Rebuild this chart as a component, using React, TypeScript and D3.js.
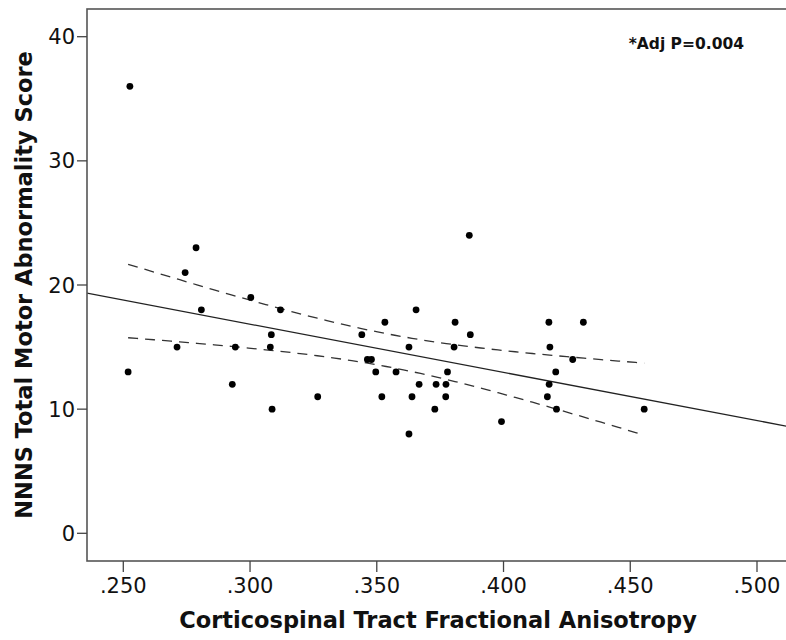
import React, { useEffect, useRef } from 'react';
import * as d3 from 'd3';

// corticospinal tract FA (x) and NNNS total motor abnormality score (y)
const faValues = [
  0.2526, 0.2519, 0.2712, 0.2744, 0.2787, 0.2808, 0.2930, 0.2942, 0.3003, 0.3080,
  0.3084, 0.3087, 0.3120, 0.3267, 0.3441, 0.3463, 0.3479, 0.3496, 0.3520, 0.3532,
  0.3576, 0.3627, 0.3627, 0.3639, 0.3655, 0.3667, 0.3729, 0.3734, 0.3772, 0.3773,
  0.3779, 0.3805, 0.3809, 0.3865, 0.3869, 0.3992, 0.4173, 0.4179, 0.4180, 0.4183,
  0.4206, 0.4209, 0.4273, 0.4315, 0.4555,
];
const scoreValues = [
  36, 13, 15, 21, 23, 18, 12, 15, 19, 15,
  16, 10, 18, 11, 16, 14, 14, 13, 11, 17,
  13, 15, 8, 11, 18, 12, 10, 12, 11, 12,
  13, 15, 17, 24, 16, 9, 11, 17, 12, 15,
  13, 10, 14, 17, 10,
];

const xTicks = [0.25, 0.3, 0.35, 0.4, 0.45, 0.5];
const yTicks = [0, 10, 20, 30, 40];

const xTitle = 'Corticospinal Tract Fractional Anisotropy';
const yTitle = 'NNNS Total Motor Abnormality Score';
const note = '*Adj P=0.004';

// t(0.975, df = 43) for the 95% mean confidence band
const T_CRIT = 2.0167;

const FONT = "'DejaVu Sans', 'Open Sans', sans-serif";

export default function App() {
  const svgRef = useRef<SVGSVGElement>(null);

  useEffect(() => {
    const svg = d3.select(svgRef.current);
    const width = 786;
    const height = 640;
    svg.attr('width', width).attr('height', height);
    svg.selectAll('*').remove();

    const left = 87;
    const top = 9;
    const right = 790;
    const bottom = 561;

    const x = d3.scaleLinear().domain([0.23568, 0.51302]).range([left, right]);
    const y = d3.scaleLinear().domain([-2.231, 42.231]).range([bottom, top]);

    const pts = faValues.map((v, i) => ({ fa: v, score: scoreValues[i] }));

    // least squares fit
    const n = pts.length;
    const mx = d3.mean(pts, d => d.fa) as number;
    const my = d3.mean(pts, d => d.score) as number;
    const sxx = d3.sum(pts, d => (d.fa - mx) ** 2);
    const sxy = d3.sum(pts, d => (d.fa - mx) * (d.score - my));
    const slope = sxy / sxx;
    const icpt = my - slope * mx;
    const sse = d3.sum(pts, d => (d.score - (icpt + slope * d.fa)) ** 2);
    const se = Math.sqrt(sse / (n - 2));
    const fit = (v: number) => icpt + slope * v;
    const half = (v: number) => T_CRIT * se * Math.sqrt(1 / n + (v - mx) ** 2 / sxx);

    const [xMin, xMax] = d3.extent(faValues) as [number, number];
    const bandX = d3.range(0, 61).map(i => xMin + (xMax - xMin) * i / 60);

    svg.append('clipPath').attr('id', 'plot-clip')
      .append('rect')
      .attr('x', left).attr('y', top)
      .attr('width', right - left).attr('height', bottom - top);

    const g = svg.append('g').attr('clip-path', 'url(#plot-clip)');

    // fit line across the whole axis
    const [d0, d1] = x.domain();
    g.append('line')
      .attr('x1', x(d0)).attr('y1', y(fit(d0)))
      .attr('x2', x(d1)).attr('y2', y(fit(d1)))
      .attr('stroke', '#222')
      .attr('stroke-width', 1.3);

    const line = d3.line<number>().x(v => x(v));
    [1, -1].forEach(sign => {
      g.append('path')
        .attr('d', line.y(v => y(fit(v) + sign * half(v)))(bandX))
        .attr('fill', 'none')
        .attr('stroke', '#333')
        .attr('stroke-width', 1.3)
        .attr('stroke-dasharray', '10,7');
    });

    g.selectAll('circle')
      .data(pts)
      .join('circle')
      .attr('cx', d => x(d.fa))
      .attr('cy', d => y(d.score))
      .attr('r', 3.4)
      .attr('fill', '#000');

    // frame
    svg.append('rect')
      .attr('x', left).attr('y', top)
      .attr('width', right - left).attr('height', bottom - top)
      .attr('fill', 'none')
      .attr('stroke', '#555')
      .attr('stroke-width', 1.6);

    // y axis
    const yAxis = svg.append('g');
    yTicks.forEach(t => {
      yAxis.append('line')
        .attr('x1', left - 10).attr('x2', left)
        .attr('y1', y(t)).attr('y2', y(t))
        .attr('stroke', '#444').attr('stroke-width', 1.3);
      yAxis.append('text')
        .attr('x', left - 12)
        .attr('y', y(t))
        .attr('dy', '0.36em')
        .attr('text-anchor', 'end')
        .attr('font-family', FONT)
        .attr('font-size', 21)
        .attr('fill', '#111')
        .text(String(t));
    });

    // x axis
    const xAxis = svg.append('g');
    xTicks.forEach(t => {
      xAxis.append('line')
        .attr('x1', x(t)).attr('x2', x(t))
        .attr('y1', bottom).attr('y2', bottom + 11)
        .attr('stroke', '#444').attr('stroke-width', 1.3);
      xAxis.append('text')
        .attr('x', x(t))
        .attr('y', 593)
        .attr('text-anchor', 'middle')
        .attr('font-family', FONT)
        .attr('font-size', 21)
        .attr('fill', '#111')
        .text(d3.format('.3f')(t).replace(/^0/, ''));
    });

    svg.append('text')
      .attr('x', 438)
      .attr('y', 628)
      .attr('text-anchor', 'middle')
      .attr('font-family', FONT)
      .attr('font-weight', 'bold')
      .attr('font-size', 22.5)
      .attr('fill', '#111')
      .text(xTitle);

    svg.append('text')
      .attr('transform', `translate(32,285) rotate(-90)`)
      .attr('text-anchor', 'middle')
      .attr('font-family', FONT)
      .attr('font-weight', 'bold')
      .attr('font-size', 22.5)
      .attr('fill', '#111')
      .text(yTitle);

    svg.append('text')
      .attr('x', 744)
      .attr('y', 49)
      .attr('text-anchor', 'end')
      .attr('font-family', FONT)
      .attr('font-weight', 'bold')
      .attr('font-size', 15.5)
      .attr('fill', '#111')
      .text(note);
  }, []);

  return (
    <div style={{ position: 'absolute', left: 0, top: 0 }}>
      <svg ref={svgRef} style={{ display: 'block' }} />
    </div>
  );
}
